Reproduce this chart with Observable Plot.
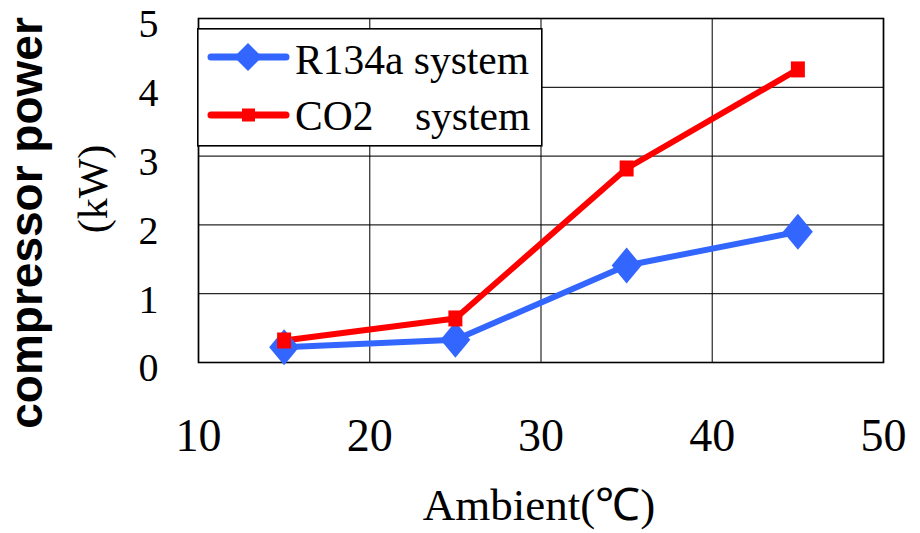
<!DOCTYPE html>
<html>
<head>
<meta charset="utf-8">
<script src="https://cdn.jsdelivr.net/npm/d3@7"></script>
<script src="https://cdn.jsdelivr.net/npm/@observablehq/plot@0.6"></script>
<style>
  html, body { margin: 0; padding: 0; background: white; }
  #wrap { position: relative; width: 920px; height: 533px; }
  #legend { position: absolute; left: 197px; top: 28px; }
</style>
</head>
<body>
<div id="wrap"></div>
<script>
const ambient = [15, 25, 35, 45];
const r134a = [0.22, 0.33, 1.41, 1.90];
const co2 = [0.32, 0.64, 2.82, 4.26];
const xTicks = [10, 20, 30, 40, 50];
const yTicks = [0, 1, 2, 3, 4, 5];
const seriesNames = ["R134a system", "CO2    system"];
const seriesColors = ["#3366FF", "#FF0000"];

const rowsR = ambient.map((a, i) => ({x: a, y: r134a[i]}));
const rowsC = ambient.map((a, i) => ({x: a, y: co2[i]}));

const diamondSym = {draw(ctx, size) {
  const r = Math.sqrt(size / Math.PI), w = r * 0.83;
  ctx.moveTo(0, -r); ctx.lineTo(w, 0); ctx.lineTo(0, r); ctx.lineTo(-w, 0); ctx.closePath();
}};
const squareSym = {draw(ctx, size) {
  const r = Math.sqrt(size / Math.PI), w = r * 0.875;
  ctx.moveTo(-w, -r); ctx.lineTo(w, -r); ctx.lineTo(w, r); ctx.lineTo(-w, r); ctx.closePath();
}};

const svg = Plot.plot({
  width: 920, height: 533,
  marginLeft: 198, marginRight: 37, marginTop: 18, marginBottom: 171,
  x: {domain: [10, 50]},
  y: {domain: [0, 5]},
  style: {fontFamily: '"Liberation Serif", "Times New Roman", serif', background: "white", color: "black", overflow: "visible"},
  marks: [
    Plot.gridX(xTicks, {stroke: "#000", strokeOpacity: 0.85, strokeWidth: 1.2}),
    Plot.gridY(yTicks, {stroke: "#000", strokeOpacity: 0.85, strokeWidth: 1.2}),
    Plot.frame({stroke: "#000", strokeWidth: 1.6}),
    Plot.axisX(xTicks, {tickSize: 0, tickPadding: 56, fontSize: 46, label: null, tickFormat: d => String(d)}),
    Plot.axisY(yTicks, {tickSize: 0, tickPadding: 40, fontSize: 40, dy: 6, label: null, tickFormat: d => String(d)}),
    Plot.line(rowsR, {x: "x", y: "y", stroke: seriesColors[0], strokeWidth: 6, strokeLinejoin: "round"}),
    Plot.line(rowsC, {x: "x", y: "y", stroke: seriesColors[1], strokeWidth: 6, strokeLinejoin: "round"}),
    Plot.dot(rowsR, {x: "x", y: "y", r: 18, symbol: diamondSym, fill: seriesColors[0], stroke: "none"}),
    Plot.dot(rowsC, {x: "x", y: "y", r: 8, symbol: squareSym, fill: seriesColors[1], stroke: "none"})
  ]
});

const s = d3.select(svg);
s.append("text")
  .attr("transform", "translate(42,223) rotate(-90)")
  .attr("text-anchor", "middle")
  .attr("font-family", '"Liberation Sans", Arial, sans-serif')
  .attr("font-weight", "bold")
  .attr("font-size", 46)
  .attr("fill", "black")
  .text("compressor power");
s.append("text")
  .attr("transform", "translate(107,189) rotate(-90)")
  .attr("text-anchor", "middle")
  .attr("font-family", '"Liberation Serif", "Times New Roman", serif')
  .attr("font-size", 42)
  .attr("fill", "black")
  .text("(kW)");
s.append("text")
  .attr("x", 539).attr("y", 520)
  .attr("text-anchor", "middle")
  .attr("font-family", '"Liberation Serif", "Times New Roman", serif')
  .attr("font-size", 45)
  .attr("fill", "black")
  .text("Ambient(℃)");

const wrap = document.getElementById("wrap");
wrap.appendChild(svg);

// Legend (HTML overlay)
const leg = d3.select(wrap).append("svg").attr("id", "legend").attr("width", 346).attr("height", 119);
leg.append("rect").attr("x", 0.8).attr("y", 0.8).attr("width", 344).attr("height", 117)
  .attr("fill", "white").attr("stroke", "black").attr("stroke-width", 1.6);
const rowsY = [29, 87];
const baseY = [46, 102];
seriesNames.forEach((name, i) => {
  const g = leg.append("g");
  g.append("line").attr("x1", 14).attr("x2", 89).attr("y1", rowsY[i]).attr("y2", rowsY[i])
    .attr("stroke", seriesColors[i]).attr("stroke-width", 7).attr("stroke-linecap", "round");
  if (i === 0) {
    g.append("path").attr("d", `M51,${rowsY[i]-14}L65,${rowsY[i]}L51,${rowsY[i]+14}L37,${rowsY[i]}Z`).attr("fill", seriesColors[i]);
  } else {
    g.append("rect").attr("x", 45).attr("y", rowsY[i] - 6.5).attr("width", 13).attr("height", 13).attr("fill", seriesColors[i]);
  }
  g.append("text").attr("x", 98).attr("y", baseY[i])
    .attr("font-family", '"Liberation Serif", "Times New Roman", serif')
    .attr("font-size", 41.5).attr("fill", "black")
    .attr("xml:space", "preserve").style("white-space", "pre")
    .text(name);
});
</script>
</body>
</html>
